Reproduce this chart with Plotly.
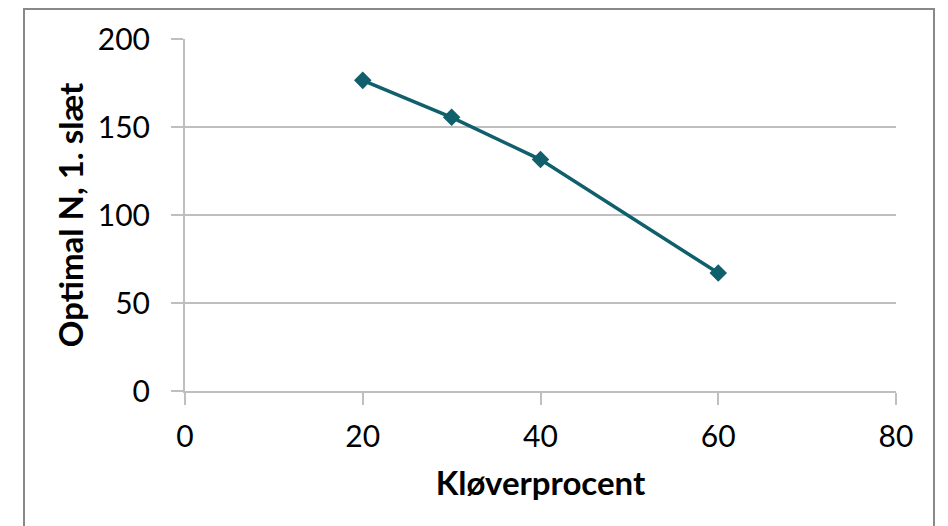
import plotly.graph_objects as go

clover_pct = [20, 30, 40, 60]
optimal_n = [176.5, 155.5, 131.5, 67]
x_ticks = [0, 20, 40, 60, 80]
y_ticks = [0, 50, 100, 150, 200]

# page has an 8px body margin, so the figure is 940x518 placed at (8, 8)
W, H = 940, 518
L, R, T, B = 177, 52, 31, 135
pw, ph = W - L - R, H - T - B

fig = go.Figure()
fig.add_trace(go.Scatter(
    x=clover_pct, y=optimal_n, mode="lines+markers",
    line=dict(color="#0F5F6C", width=3.5),
    marker=dict(symbol="diamond", size=13.5, color="#0F5F6C"),
    showlegend=False,
))

font = "Lato, Open Sans, sans-serif"
fig.update_layout(
    width=W, height=H,
    margin=dict(l=L, r=R, t=T, b=B),
    paper_bgcolor="white", plot_bgcolor="white",
    font=dict(family=font, color="black"),
    xaxis=dict(
        range=[0, 80], tickvals=x_ticks, showgrid=False, zeroline=False,
        showline=True, linecolor="#BFBFBF", linewidth=2,
        ticks="outside", ticklen=12, tickcolor="#BFBFBF", tickwidth=2,
        tickfont=dict(size=30), ticklabelstandoff=6,
        title=dict(text="<b>Kløverprocent</b>", font=dict(size=33), standoff=20),
    ),
    yaxis=dict(
        range=[0, 200], tickvals=y_ticks, showgrid=True, gridcolor="#BFBFBF", gridwidth=1.5,
        zeroline=False, showline=True, linecolor="#BFBFBF", linewidth=2,
        ticks="outside", ticklen=12, tickcolor="#BFBFBF", tickwidth=1.5,
        tickfont=dict(size=30), ticklabelstandoff=15,
        title=dict(text="<b>Optimal N, 1. slæt</b>", font=dict(size=33), standoff=4),
    ),
    shapes=[dict(
        type="rect", xref="paper", yref="paper",
        x0=(16 - L) / pw, x1=(926 - L) / pw,
        y0=-((540 - (H - B)) / ph),
        y1=((H - B) - 1) / ph,
        line=dict(color="#898989", width=2), fillcolor="rgba(0,0,0,0)", layer="below",
    )],
)
fig.write_html("out.html")
